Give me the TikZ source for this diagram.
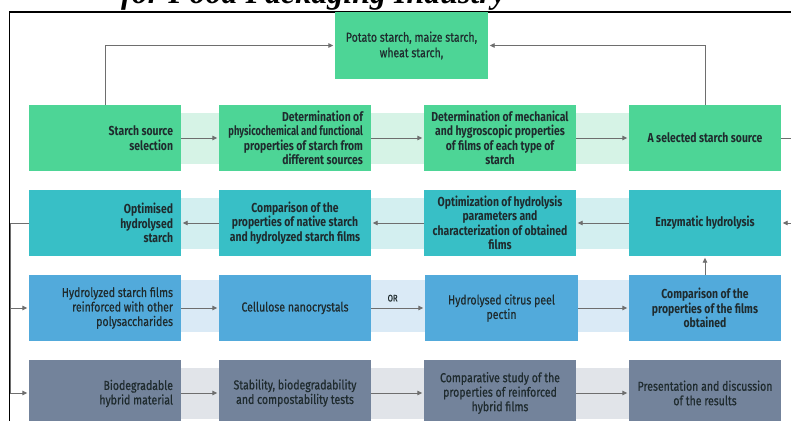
\documentclass[tikz,border=0pt]{standalone}
\usepackage{fontspec}
\setmainfont{Fira Sans}[FakeStretch=0.81, FakeBold=0.6]
\newfontfamily\boldf{Fira Sans}[FakeStretch=0.80]
\newfontfamily\boldn{Fira Sans}[FakeStretch=0.72]
\newfontfamily\titlef{Liberation Serif}
\usetikzlibrary{arrows.meta}

\definecolor{grn}{HTML}{4DD596}
\definecolor{grnl}{HTML}{D6F3E6}
\definecolor{tea}{HTML}{38BFC6}
\definecolor{teal2}{HTML}{D3EFF0}
\definecolor{blu}{HTML}{52AADB}
\definecolor{blul}{HTML}{DAEAF6}
\definecolor{sla}{HTML}{73839B}
\definecolor{slal}{HTML}{E1E4E9}
\definecolor{ink}{HTML}{1F2B2E}
\definecolor{wire}{HTML}{6E6E6E}

\tikzset{
  box/.style={rectangle, minimum width=152pt, minimum height=66pt, inner sep=0pt,
    align=center, text=ink, font=\fontsize{13}{14.5}\selectfont},
  bbox/.style={box, font=\boldf\bfseries\fontsize{13}{14.5}\selectfont},
  rtext/.style={anchor=east, inner sep=0pt, align=right, text=ink,
    font=\fontsize{13}{14.5}\selectfont},
  brtext/.style={rtext, font=\boldf\bfseries\fontsize{13}{14.5}\selectfont},
  conn/.style={draw=wire, line width=0.9pt, -{Triangle[length=5pt,width=4.5pt]}, shorten >=1.5pt},
  wireline/.style={draw=wire, line width=0.9pt},
}

\begin{document}
\begin{tikzpicture}[x=1pt,y=-1pt]
\useasboundingbox (0,0) rectangle (791,420);
\fill[white] (0,0) rectangle (791,420);

% heading, partly above the page edge
\node[anchor=base west, inner sep=0pt, font=\titlef\bfseries\itshape\fontsize{32}{36}\selectfont]
  (title) at (121,4) {for Food Packaging Industry};

% frame
\draw[black, line width=1.2pt] (9.5,430) -- (9.5,12) -- (800,12);

% light bands behind each row
\fill[grnl]  (105,113) rectangle (705,164);
\fill[teal2] (105,198) rectangle (705,249);
\fill[blul]  (105,280) rectangle (705,332);
\fill[slal]  (105,368) rectangle (705,419);

% source box
\node[box, fill=grn, minimum width=153pt, minimum height=67pt,
  font=\fontsize{13}{15.5}\selectfont] (top) at (411.5,45.5)
  {Potato starch, maize starch,\\ wheat starch,};

% row 1
\node[bbox, fill=grn] (r1a) at (105,138) {};
\node[brtext] (r1at) at ([xshift=-8pt]r1a.east) {Starch source\\ selection};
\node[bbox, fill=grn] (r1b) at (295,138) {};
\node[brtext] (r1bt) at ([xshift=-8pt]r1b.east) {Determination of\\ {\boldn\bfseries physicochemical and functional}\\ properties of starch from\\ different sources};
\node[bbox, fill=grn] (r1c) at (500,138) {Determination of mechanical\\ and hygroscopic properties\\ of films of each type of\\ starch};
\node[bbox, fill=grn] (r1d) at (705,138) {A selected starch source};

% row 2
\node[bbox, fill=tea] (r2a) at (105,223) {};
\node[brtext] (r2at) at ([xshift=-8pt]r2a.east) {Optimised\\ hydrolysed\\ starch};
\node[bbox, fill=tea] (r2b) at (295,223) {Comparison of the\\ properties of native starch\\ and hydrolyzed starch films};
\node[bbox, fill=tea] (r2c) at (500,223) {Optimization of hydrolysis\\ parameters and\\ characterization of obtained\\ films};
\node[bbox, fill=tea] (r2d) at (705,223) {Enzymatic hydrolysis};

% row 3
\node[box, fill=blu] (r3a) at (105,308) {};
\node[rtext] (r3at) at ([xshift=-8pt]r3a.east) {Hydrolyzed starch films\\ reinforced with other\\ polysaccharides};
\node[box, fill=blu] (r3b) at (295,308) {Cellulose nanocrystals};
\node[box, fill=blu, minimum width=153pt] (r3c) at (501.5,308) {Hydrolysed citrus peel\\ pectin};
\node[bbox, fill=blu] (r3d) at (705,308) {Comparison of the\\ properties of the films\\ obtained};

% row 4
\node[box, fill=sla] (r4a) at (105,393) {};
\node[rtext] (r4at) at ([xshift=-8pt,yshift=-0.5pt]r4a.east) {Biodegradable\\ hybrid material};
\node[box, fill=sla] (r4b) at (295,393) {Stability, biodegradability\\ and compostability tests};
\node[box, fill=sla] (r4c) at (500,393) {Comparative study of the\\ properties of reinforced\\ hybrid films};
\node[box, fill=sla] (r4d) at (705,393) {Presentation and discussion\\ of the results};

% connectors to the source box
\draw[conn] (r1a.north) |- (top.west);
\draw[conn] (r1d.north) |- (top.east);

% row 1 flow
\draw[conn] (r1a) -- (r1b);
\draw[conn] (r1b) -- (r1c);
\draw[conn] (r1c) -- (r1d);

% wrap from row 1 to row 2 on the right
\coordinate (rwrap) at (800,180);
\draw[conn] (r1d.east) -- (r1d.east -| rwrap) |- (r2d.east);

% row 2 flow (right to left)
\draw[conn] (r2d) -- (r2c);
\draw[conn] (r2c) -- (r2b);
\draw[conn] (r2b) -- (r2a);

% left trunk feeding rows 3 and 4
\coordinate (lwrap) at (10.8,223);
\draw[wireline] (r2a.west) -- (lwrap);
\draw[conn] (lwrap) |- (r3a.west);
\draw[conn] (lwrap) |- (r4a.west);

% row 3 flow
\draw[conn] (r3a) -- (r3b);
\draw[conn] (r3b) -- node[pos=0.4, above=6pt, inner sep=0pt, text=ink,
  font=\fontsize{9.5}{11}\selectfont] (orlab) {OR} (r3c);
\draw[conn] (r3c) -- (r3d);
\draw[conn] (r3d) -- (r2d);

% row 4 flow
\draw[conn] (r4a) -- (r4b);
\draw[conn] (r4b) -- (r4c);
\draw[conn] (r4c) -- (r4d);
\end{tikzpicture}
\end{document}
